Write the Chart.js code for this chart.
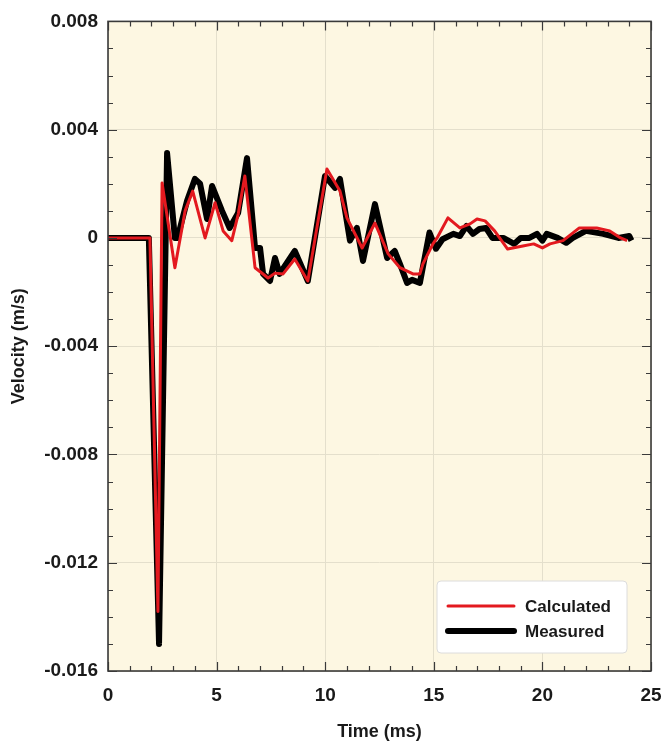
<!DOCTYPE html>
<html>
<head>
<meta charset="utf-8">
<script src="https://cdn.jsdelivr.net/npm/chart.js@4.4.0/dist/chart.umd.min.js"></script>
<style>
  html, body { margin: 0; padding: 0; background: #fff; }
  #wrap { width: 666px; height: 743px; }
</style>
</head>
<body>
<div id="wrap"><canvas id="velChart" width="666" height="743"></canvas></div>
<script>
// Calculated (red) curve, time in ms, velocity in m/s
const calcTime = [0, 1.93, 2.3, 2.49, 3.08, 3.55, 3.9, 4.47, 4.93, 5.3, 5.7, 6.0, 6.3, 6.77, 7.37, 7.69, 8.06, 8.6, 9.2,
  10.08, 10.68, 11.0, 11.7, 12.29, 12.9, 13.44, 14.04, 14.36, 14.5, 14.96, 15.15, 15.65, 16.2, 16.67, 16.99, 17.36,
  17.8, 18.4, 19.1, 19.6, 20.0, 20.35, 20.95, 21.7, 22.5, 23.1, 23.6, 23.9];
const calcVel = [0, 0, -0.0138, 0.00203, -0.0011, 0.001, 0.00173, 0, 0.0013, 0.00026, -0.0001, 0.0009, 0.00229, -0.0011,
  -0.00148, -0.0013, -0.00133, -0.00078, -0.00159, 0.00255, 0.00173, 0.00074, -0.00037, 0.00055, -0.00059, -0.0011,
  -0.00133, -0.00133, -0.00096, -0.00022, 0, 0.00074, 0.00037, 0.00052, 0.0007, 0.00063, 0.00026, -0.00041, -0.0003,
  -0.00022, -0.00037, -0.00022, -0.0001, 0.00037, 0.00037, 0.00026, 0, -0.0001];

// Measured (black) curve
const measTime = [0, 1.88, 2.35, 2.72, 3.08, 3.2, 3.64, 4.0, 4.24, 4.56, 4.79, 5.25, 5.6, 5.99, 6.4, 6.77, 7.0, 7.14,
  7.46, 7.69, 7.9, 8.6, 9.2, 9.99, 10.45, 10.68, 11.14, 11.46, 11.74, 12.29, 12.85, 13.2, 13.44, 13.77, 14.0, 14.36,
  14.8, 15.1, 15.4, 15.9, 16.2, 16.5, 16.8, 17.1, 17.4, 17.7, 18.2, 18.7, 19.0, 19.4, 19.75, 20.0, 20.2, 20.7, 21.1,
  21.4, 22.0, 22.8, 23.5, 24.0, 24.1];
const measVel = [0, 0, -0.015, 0.00314, 0, 0, 0.00137, 0.00218, 0.002, 0.0007, 0.00192, 0.001, 0.00037, 0.00092, 0.00295,
  -0.00037, -0.00037, -0.00133, -0.00159, -0.00074, -0.00133, -0.00048, -0.00159, 0.00229, 0.00185, 0.00218, -0.0001,
  0.00037, -0.00085, 0.00125, -0.00074, -0.00048, -0.00096, -0.00166, -0.00155, -0.00166, 0.0002, -0.0004, -0.00005,
  0.00015, 0.00007, 0.00044, 0.00015, 0.00033, 0.00037, 0, 0, -0.00022, 0, 0, 0.00015, -0.0001, 0.00015, 0, -0.00018,
  0, 0.00026, 0.00015, 0, 0.00007, -0.0001];

const X_MIN = 0, X_MAX = 25, X_STEP = 5;
const Y_MIN = -0.016, Y_MAX = 0.008, Y_STEP = 0.004;

const toPoints = (xs, ys) => xs.map((x, i) => ({ x: x, y: ys[i] }));

// plot background
const plotBg = {
  id: 'plotBg',
  beforeDraw(chart) {
    const { ctx, chartArea: a } = chart;
    ctx.save();
    ctx.fillStyle = '#fdf7e2';
    ctx.fillRect(a.left, a.top, a.right - a.left, a.bottom - a.top);
    ctx.restore();
  }
};

// inward ticks on all four sides + frame
const frameTicks = {
  id: 'frameTicks',
  afterDatasetsDraw(chart) {
    const { ctx, chartArea: a } = chart;
    const xs = chart.scales.x, ys = chart.scales.y;
    ctx.save();
    ctx.strokeStyle = '#3a3a3a';
    ctx.lineWidth = 1.2;
    ctx.beginPath();
    for (let t = X_MIN; t <= X_MAX; t++) {
      const px = Math.round(xs.getPixelForValue(t)) + 0.5;
      const len = t % X_STEP === 0 ? 9 : 5;
      ctx.moveTo(px, a.bottom); ctx.lineTo(px, a.bottom - len);
      ctx.moveTo(px, a.top); ctx.lineTo(px, a.top + len);
    }
    for (let k = -16; k <= 8; k++) {
      const py = Math.round(ys.getPixelForValue(k / 1000)) + 0.5;
      const len = k % 4 === 0 ? 9 : 5;
      ctx.moveTo(a.left, py); ctx.lineTo(a.left + len, py);
      ctx.moveTo(a.right, py); ctx.lineTo(a.right - len, py);
    }
    ctx.stroke();
    ctx.lineWidth = 1.6;
    ctx.strokeRect(a.left, a.top, a.right - a.left, a.bottom - a.top);
    ctx.restore();
  }
};

// legend box inside plot (lower right)
const innerLegend = {
  id: 'innerLegend',
  afterDatasetsDraw(chart) {
    const { ctx, chartArea: a } = chart;
    const w = 190, h = 72;
    const left = a.right - 24 - w, top = a.bottom - 18 - h;
    ctx.save();
    ctx.fillStyle = '#ffffff';
    ctx.strokeStyle = '#dcdcdc';
    ctx.lineWidth = 1;
    ctx.beginPath();
    ctx.roundRect(left, top, w, h, 4);
    ctx.fill();
    ctx.stroke();
    ctx.font = 'bold 17px "Liberation Sans", Arial, sans-serif';
    ctx.textBaseline = 'middle';
    ctx.fillStyle = '#1a1a1a';
    chart.data.datasets.forEach((ds, i) => {
      const y = top + 25 + i * 25;
      ctx.strokeStyle = ds.borderColor;
      ctx.lineWidth = ds.borderWidth;
      ctx.lineCap = 'round';
      ctx.beginPath();
      ctx.moveTo(left + 11, y);
      ctx.lineTo(left + 77, y);
      ctx.stroke();
      ctx.fillText(ds.label, left + 88, y + 1);
    });
    ctx.restore();
  }
};

const tickFont = { family: '"Liberation Sans", Arial, sans-serif', size: 19, weight: 'bold' };
const titleFont = { family: '"Liberation Sans", Arial, sans-serif', size: 18, weight: 'bold' };

new Chart(document.getElementById('velChart'), {
  type: 'line',
  data: {
    datasets: [{
      label: 'Calculated',
      data: toPoints(calcTime, calcVel),
      borderColor: '#e3191f',
      borderWidth: 3,
      borderJoinStyle: 'round',
      pointRadius: 0,
      tension: 0,
      fill: false
    }, {
      label: 'Measured',
      data: toPoints(measTime, measVel),
      borderColor: '#000000',
      borderWidth: 6,
      borderJoinStyle: 'round',
      pointRadius: 0,
      tension: 0,
      fill: false
    }]
  },
  options: {
    responsive: false,
    animation: false,
    layout: { padding: { top: 20, right: 15, left: 0, bottom: 0 } },
    scales: {
      x: {
        type: 'linear',
        min: X_MIN,
        max: X_MAX,
        afterFit: (s) => { s.height = 72; s.paddingLeft = 0; s.paddingRight = 0; },
        ticks: {
          stepSize: X_STEP,
          color: '#1a1a1a',
          font: tickFont,
          padding: 13,
          maxRotation: 0
        },
        grid: { color: '#e4dfcc', lineWidth: 1, drawTicks: false },
        border: { display: false },
        title: {
          display: true,
          text: 'Time (ms)',
          color: '#1a1a1a',
          font: titleFont,
          padding: { top: 6, bottom: 0 }
        }
      },
      y: {
        type: 'linear',
        min: Y_MIN,
        max: Y_MAX,
        afterFit: (s) => { s.width = 108; },
        ticks: {
          stepSize: Y_STEP,
          color: '#1a1a1a',
          font: tickFont,
          padding: 10,
          callback: (v) => {
            const r = Math.round(v * 1000) / 1000;
            return r === 0 ? '0' : r.toFixed(3);
          }
        },
        grid: { color: '#e4dfcc', lineWidth: 1, drawTicks: false },
        border: { display: false },
        title: {
          display: true,
          text: 'Velocity (m/s)',
          color: '#1a1a1a',
          font: titleFont,
          padding: { top: 8, bottom: 0 }
        }
      }
    },
    plugins: {
      legend: { display: false },
      tooltip: { enabled: false }
    }
  },
  plugins: [plotBg, frameTicks, innerLegend]
});
</script>
</body>
</html>
